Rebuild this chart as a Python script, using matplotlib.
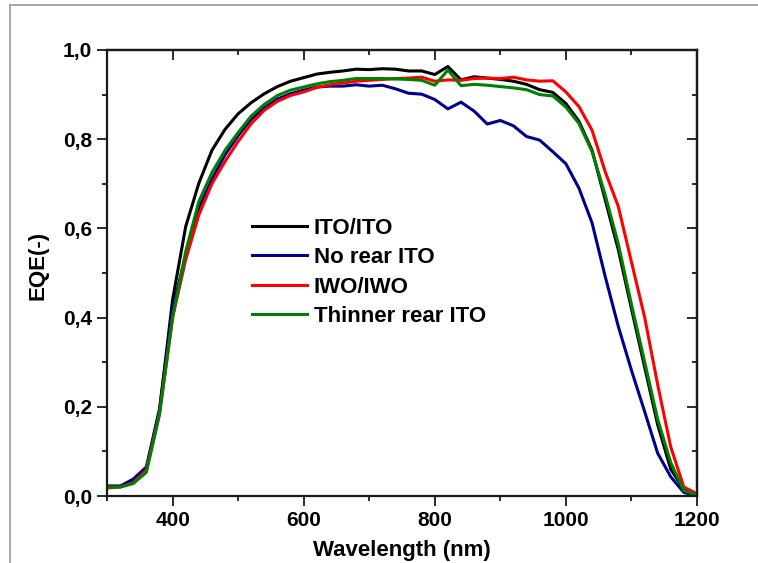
import numpy as np
import matplotlib
matplotlib.use("Agg")
import matplotlib.pyplot as plt
from matplotlib.ticker import MultipleLocator, FuncFormatter
from matplotlib.lines import Line2D

plt.rcParams['font.family'] = ['Liberation Sans', 'DejaVu Sans']
plt.rcParams['font.weight'] = 'bold'

# Wavelength grid (nm)
wavelength = np.arange(300, 1201, 20)

eqe_ito_ito = [
    0.022, 0.022, 0.032, 0.060, 0.190, 0.440, 0.604, 0.701, 0.775, 0.822,
    0.857, 0.882, 0.902, 0.918, 0.930, 0.938, 0.946, 0.950, 0.953, 0.957,
    0.956, 0.958, 0.957, 0.953, 0.953, 0.945, 0.963, 0.933, 0.940, 0.937,
    0.934, 0.930, 0.923, 0.911, 0.905, 0.880, 0.840, 0.775, 0.664, 0.552,
    0.420, 0.290, 0.160, 0.060, 0.015, 0.002]

eqe_no_rear_ito = [
    0.022, 0.022, 0.038, 0.065, 0.195, 0.420, 0.540, 0.645, 0.710, 0.765,
    0.808, 0.845, 0.870, 0.890, 0.902, 0.910, 0.917, 0.919, 0.919, 0.922,
    0.919, 0.921, 0.913, 0.903, 0.901, 0.889, 0.868, 0.883, 0.863, 0.834,
    0.842, 0.830, 0.806, 0.798, 0.772, 0.745, 0.690, 0.612, 0.492, 0.380,
    0.282, 0.190, 0.096, 0.043, 0.008, 0.000]

eqe_iwo_iwo = [
    0.018, 0.020, 0.030, 0.058, 0.185, 0.400, 0.530, 0.630, 0.700, 0.750,
    0.795, 0.835, 0.865, 0.885, 0.898, 0.906, 0.916, 0.922, 0.926, 0.930,
    0.932, 0.934, 0.936, 0.937, 0.939, 0.930, 0.933, 0.932, 0.936, 0.937,
    0.936, 0.939, 0.933, 0.930, 0.931, 0.906, 0.873, 0.820, 0.727, 0.649,
    0.525, 0.402, 0.250, 0.110, 0.020, 0.005]

eqe_thinner_rear_ito = [
    0.020, 0.020, 0.028, 0.053, 0.182, 0.400, 0.548, 0.660, 0.725, 0.775,
    0.815, 0.852, 0.878, 0.898, 0.910, 0.917, 0.924, 0.929, 0.932, 0.936,
    0.936, 0.936, 0.935, 0.934, 0.932, 0.921, 0.955, 0.920, 0.923, 0.921,
    0.918, 0.915, 0.911, 0.900, 0.897, 0.872, 0.835, 0.772, 0.675, 0.565,
    0.430, 0.302, 0.172, 0.075, 0.012, 0.002]

series_labels = ["ITO/ITO", "No rear ITO", "IWO/IWO", "Thinner rear ITO"]
series_colors = ["#000000", "#00008f", "#ff0000", "#008000"]
series_values = [eqe_ito_ito, eqe_no_rear_ito, eqe_iwo_iwo, eqe_thinner_rear_ito]

fig = plt.figure(figsize=(7.58, 5.63), dpi=100)
ax = fig.add_axes([0.1412, 0.119, 0.7783, 0.7922])

for vals, lab, col in zip(series_values, series_labels, series_colors):
    ax.plot(wavelength, vals, color=col, lw=2.2, label=lab)

ax.set_xlim(300, 1200)
ax.set_ylim(0, 1.0)
ax.xaxis.set_major_locator(MultipleLocator(200))
ax.xaxis.set_minor_locator(MultipleLocator(100))
ax.yaxis.set_major_locator(MultipleLocator(0.2))
ax.yaxis.set_minor_locator(MultipleLocator(0.1))
ax.yaxis.set_major_formatter(FuncFormatter(lambda v, p: f"{v:.1f}".replace('.', ',')))
ax.xaxis.set_major_formatter(FuncFormatter(lambda v, p: "" if v < 350 else f"{v:.0f}"))

for s in ax.spines.values():
    s.set_linewidth(1.6)
    s.set_color('#1a1a1a')

ax.tick_params(which='major', direction='out', length=7, width=1.3,
               labelsize=15, pad=4, colors='#1a1a1a', labelcolor='black')
ax.tick_params(which='minor', direction='out', length=3.5, width=1.3, colors='#1a1a1a')

# inward ticks on the top and right frame edges
top = ax.secondary_xaxis('top')
top.xaxis.set_major_locator(MultipleLocator(200))
top.xaxis.set_minor_locator(MultipleLocator(100))
top.tick_params(which='major', direction='in', length=7, width=1.3, labeltop=False, colors='#1a1a1a')
top.tick_params(which='minor', direction='in', length=3.5, width=1.3, colors='#1a1a1a')
top.spines['top'].set_linewidth(1.6)
right = ax.secondary_yaxis('right')
right.yaxis.set_major_locator(MultipleLocator(0.2))
right.yaxis.set_minor_locator(MultipleLocator(0.1))
right.tick_params(which='major', direction='in', length=7, width=1.3, labelright=False, colors='#1a1a1a')
right.tick_params(which='minor', direction='in', length=3.5, width=1.3, colors='#1a1a1a')
right.spines['right'].set_linewidth(1.6)

for t in ax.get_xticklabels() + ax.get_yticklabels():
    t.set_fontweight('bold')

ax.set_xlabel("Wavelength (nm)", fontsize=16, fontweight='bold')
ax.set_ylabel("EQE(-)", fontsize=16, fontweight='bold')
ax.xaxis.set_label_coords(0.5, -0.099)
ax.yaxis.set_label_coords(-0.10, 0.518)

leg = ax.legend(loc='upper left', bbox_to_anchor=(0.246, 0.624), frameon=False,
                fontsize=16, handlelength=2.45, handletextpad=0.32,
                labelspacing=0.38, borderpad=0, borderaxespad=0)
for t in leg.get_texts():
    t.set_fontweight('bold')
for h in leg.get_lines():
    h.set_linewidth(2.2)

# grey page frame
fig.add_artist(Line2D([10 / 758, 10 / 758], [0, 1 - 5 / 563], color='#a0a0a0', lw=1.3,
                      transform=fig.transFigure))
fig.add_artist(Line2D([10 / 758, 1], [1 - 5 / 563, 1 - 5 / 563], color='#a0a0a0', lw=1.3,
                      transform=fig.transFigure))

fig.savefig("out.png", dpi=100, facecolor='white')
